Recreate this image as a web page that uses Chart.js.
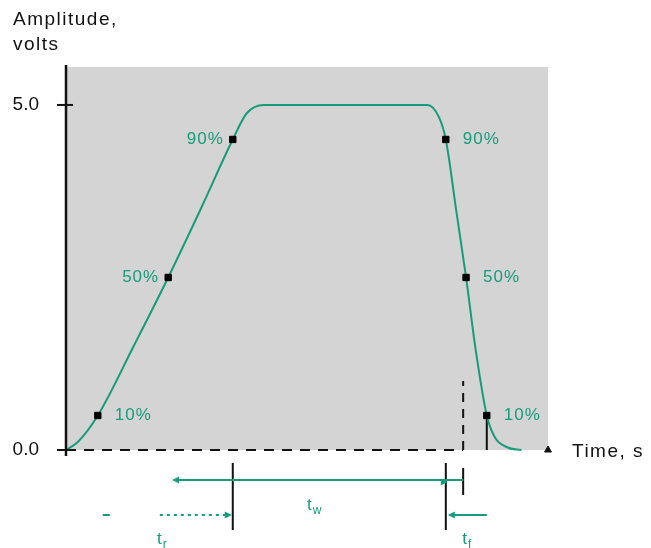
<!DOCTYPE html>
<html>
<head>
<meta charset="utf-8">
<title>Pulse amplitude vs time</title>
<script src="https://cdn.jsdelivr.net/npm/chart.js@4.4.1/dist/chart.umd.min.js"></script>
<style>
  body { margin: 0; background: #fff; }
  #wrap { width: 651px; height: 548px; }
</style>
</head>
<body>
<div id="wrap"><canvas id="pulse" width="651" height="548"></canvas></div>
<script>
// pulse shape, time in arbitrary units (0..100), amplitude in volts
var timeVals = [0, 2.5, 6.6, 14, 21.2, 28, 34.6, 37.5, 41, 75, 77.4, 78.8, 81, 83, 85, 87.3, 89, 91.5, 94.5];
var ampVals  = [0, 0.12, 0.5, 1.5, 2.5, 3.5, 4.5, 4.88, 5.0, 5.0, 4.82, 4.5, 3.45, 2.5, 1.45, 0.5, 0.18, 0.04, 0];

// marked points on both edges
var markTime = [6.6, 21.2, 34.6, 78.8, 83.0, 87.3];
var markAmp  = [0.5, 2.5, 4.5, 4.5, 2.5, 0.5];
var markText = ['10%', '50%', '90%', '90%', '50%', '10%'];
var markSide = ['right', 'left', 'left', 'right', 'right', 'right'];

var yTicks = [0, 5];

// spans marked under the time axis
var riseSpan  = [6.6, 34.6];   // t_r
var widthSpan = [22.0, 82.4];  // t_w
var fallSpan  = [78.8, 87.3];  // t_f
var refTime = 82.4;            // dashed reference line
var refAmp = 1.0;

var green = '#179b7b';
var font = '"Liberation Sans", Arial, sans-serif';

function xy(xs, ys) {
  return xs.map(function(v, i) { return { x: v, y: ys[i] }; });
}

function seg(ctx, x1, y1, x2, y2) {
  ctx.beginPath(); ctx.moveTo(x1, y1); ctx.lineTo(x2, y2); ctx.stroke();
}

function arrow(ctx, x, y, dir) {
  ctx.beginPath();
  ctx.moveTo(x, y);
  ctx.lineTo(x - dir * 7, y - 3.5);
  ctx.lineTo(x - dir * 7, y + 3.5);
  ctx.closePath();
  ctx.fill();
}

function subLabel(ctx, main, sub, cx, y) {
  ctx.font = '17px ' + font;
  var w1 = ctx.measureText(main).width;
  ctx.font = '12px ' + font;
  var w2 = ctx.measureText(sub).width;
  var x0 = cx - (w1 + w2) / 2;
  ctx.font = '17px ' + font;
  ctx.fillText(main, x0, y);
  ctx.font = '12px ' + font;
  ctx.fillText(sub, x0 + w1 + 1, y + 4);
}

var pulseDecor = {
  id: 'pulseDecor',
  beforeDraw: function(chart) {
    var a = chart.chartArea, ctx = chart.ctx;
    ctx.save();
    ctx.fillStyle = '#d4d4d4';
    ctx.fillRect(a.left, a.top, a.right - a.left, a.bottom - a.top);
    ctx.restore();
  },
  afterDraw: function(chart) {
    var a = chart.chartArea, ctx = chart.ctx;
    var xs = chart.scales.x, ys = chart.scales.y;
    var px = function(v) { return xs.getPixelForValue(v); };
    var base = a.bottom;
    ctx.save();

    // y axis line + ticks crossing it
    ctx.strokeStyle = '#111';
    ctx.lineWidth = 2.5;
    seg(ctx, a.left, a.top - 2, a.left, base + 6);
    ctx.lineWidth = 2;
    yTicks.forEach(function(t) {
      var y = ys.getPixelForValue(t);
      seg(ctx, a.left - 9, y, a.left + 7, y);
    });

    // percent labels
    ctx.fillStyle = green;
    ctx.font = '17px ' + font;
    ctx.letterSpacing = '1px';
    ctx.textBaseline = 'middle';
    markText.forEach(function(t, i) {
      var x = px(markTime[i]), y = ys.getPixelForValue(markAmp[i]);
      if (markSide[i] === 'left') {
        ctx.textAlign = 'right';
        ctx.fillText(t, x - 9, y);
      } else {
        ctx.textAlign = 'left';
        ctx.fillText(t, x + 17, y);
      }
    });

    // axis titles
    ctx.fillStyle = '#111';
    ctx.textAlign = 'left';
    ctx.textBaseline = 'alphabetic';
    ctx.font = '19px ' + font;
    ctx.letterSpacing = '1.5px';
    ctx.fillText('Amplitude,', 13, 25);
    ctx.fillText('volts', 13, 50);
    ctx.fillText('Time, s', 572, base + 7);

    // guides under the axis
    ctx.letterSpacing = '0px';
    ctx.strokeStyle = '#111';
    ctx.lineWidth = 2;
    seg(ctx, px(riseSpan[1]), base + 13, px(riseSpan[1]), base + 80);
    seg(ctx, px(fallSpan[0]), base + 13, px(fallSpan[0]), base + 80);
    seg(ctx, px(refTime), base + 18, px(refTime), base + 45);

    ctx.strokeStyle = green;
    ctx.fillStyle = green;
    // t_w
    var yw = base + 30;
    seg(ctx, px(widthSpan[0]) + 4, yw, px(widthSpan[1]), yw);
    arrow(ctx, px(widthSpan[0]), yw, -1);
    arrow(ctx, px(fallSpan[0]) + 2, yw + 2, 1);
    // t_r
    var yr = base + 65;
    seg(ctx, px(riseSpan[0]) + 5, yr, px(riseSpan[0]) + 12, yr);
    ctx.setLineDash([3, 4]);
    seg(ctx, px(riseSpan[0]) + 62, yr, px(riseSpan[1]) - 4, yr);
    ctx.setLineDash([]);
    arrow(ctx, px(riseSpan[1]) - 1, yr, 1);
    // t_f
    seg(ctx, px(fallSpan[0]) + 4, yr, px(fallSpan[1]), yr);
    arrow(ctx, px(fallSpan[0]) + 2, yr, -1);

    ctx.textAlign = 'left';
    subLabel(ctx, 't', 'w', px((widthSpan[0] + widthSpan[1]) / 2) - 4, base + 60);
    subLabel(ctx, 't', 'r', px((riseSpan[0] + riseSpan[1]) / 2) - 4, base + 94);
    subLabel(ctx, 't', 'f', px((fallSpan[0] + fallSpan[1]) / 2), base + 94);

    ctx.restore();
  }
};

var ctx = document.getElementById('pulse').getContext('2d');
var pulseChart = new Chart(ctx, {
  type: 'scatter',
  data: {
    datasets: [
      {
        label: 'marks',
        data: xy(markTime, markAmp),
        pointStyle: 'rect',
        pointRadius: 4.5,
        backgroundColor: '#000',
        borderColor: '#000',
        showLine: false,
        clip: false
      },
      {
        label: 'pulse',
        data: xy(timeVals, ampVals),
        showLine: true,
        borderColor: green,
        borderWidth: 2,
        pointRadius: 0,
        cubicInterpolationMode: 'monotone',
        clip: false
      },
      {
        label: 'baseline',
        data: xy([0, refTime], [0, 0]),
        showLine: true,
        borderColor: '#111',
        borderWidth: 2,
        borderDash: [10, 8],
        pointRadius: 0,
        clip: false
      },
      {
        label: 'ref',
        data: xy([refTime, refTime], [0, refAmp]),
        showLine: true,
        borderColor: '#111',
        borderWidth: 2,
        borderDash: [9, 7],
        pointRadius: 0,
        clip: false
      },
      {
        label: 'fall10',
        data: xy([markTime[5], markTime[5]], [0, markAmp[5]]),
        showLine: true,
        borderColor: '#111',
        borderWidth: 2,
        pointRadius: 0,
        clip: false
      },
      {
        label: 'axisEnd',
        data: xy([100], [0]),
        pointStyle: 'triangle',
        pointRadius: 4,
        backgroundColor: '#111',
        borderColor: '#111',
        clip: false
      }
    ]
  },
  options: {
    responsive: false,
    animation: false,
    layout: { padding: { top: 67, right: 103, left: 0, bottom: 0 } },
    plugins: {
      legend: { display: false },
      tooltip: { enabled: false }
    },
    scales: {
      x: {
        type: 'linear',
        min: 0,
        max: 100,
        grid: { display: false },
        border: { display: false },
        ticks: { display: false },
        afterFit: function(scale) { scale.height = 98; }
      },
      y: {
        type: 'linear',
        min: 0,
        max: 5.55,
        grid: { display: false },
        border: { display: false },
        afterBuildTicks: function(scale) {
          scale.ticks = yTicks.map(function(v) { return { value: v }; });
        },
        ticks: {
          padding: 19,
          color: '#111',
          font: { size: 19, family: font },
          callback: function(v) { return v.toFixed(1); }
        },
        afterFit: function(scale) { scale.width = 66; }
      }
    }
  },
  plugins: [pulseDecor]
});
</script>
</body>
</html>
